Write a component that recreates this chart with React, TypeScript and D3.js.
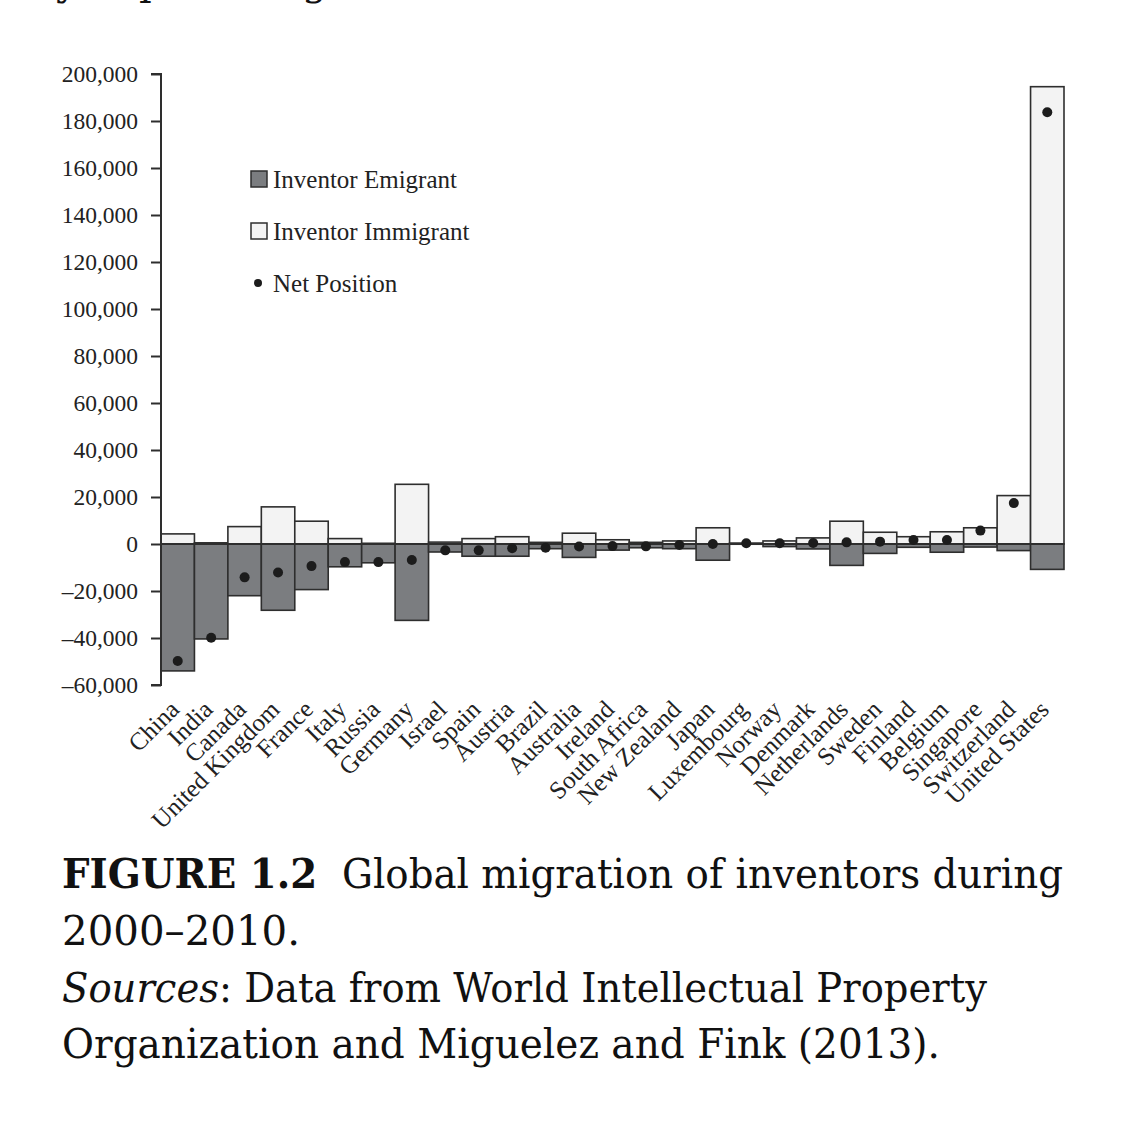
import React, { useEffect, useRef } from "react";
import * as d3 from "d3";

const countries = ["China","India","Canada","United Kingdom","France","Italy","Russia","Germany","Israel","Spain","Austria","Brazil","Australia","Ireland","South Africa","New Zealand","Japan","Luxembourg","Norway","Denmark","Netherlands","Sweden","Finland","Belgium","Singapore","Switzerland","United States"];
const immigrant = [4300, 500, 7400, 15800, 9700, 2300, 300, 25400, 800, 2300, 3100, 700, 4600, 1800, 700, 1300, 6900, 400, 1300, 2600, 9700, 5000, 3100, 5200, 6900, 20600, 194600];
const emigrant = [54000, 40400, 22000, 28200, 19400, 9700, 8000, 32500, 3400, 5200, 5200, 2000, 5700, 2600, 1600, 2000, 6900, 100, 1100, 2100, 9100, 4000, 1400, 3500, 1300, 2800, 10800];
const netPosition = [-49800, -39900, -14200, -12100, -9400, -7700, -7700, -6800, -2700, -2700, -1800, -1600, -1100, -900, -1000, -400, 0, 300, 300, 400, 700, 1000, 1700, 1700, 5700, 17400, 183700];
const yTicks = [-60000, -40000, -20000, 0, 20000, 40000, 60000, 80000, 100000, 120000, 140000, 160000, 180000, 200000];
const legendLabels = ["Inventor Emigrant", "Inventor Immigrant", "Net Position"];
const captionLines = [
  "Global migration of inventors during",
  "2000–2010.",
  "Data from World Intellectual Property",
  "Organization and Miguelez and Fink (2013).",
];

const SERIF = "'Liberation Serif', 'Times New Roman', serif";
const CAP_SERIF = "'DejaVu Serif', serif";
const DARK = "#7b7d80";
const LIGHT = "#f3f3f3";
const STROKE = "#2e2e2e";

export default function App() {
  const axisRef = useRef<SVGGElement>(null);
  const x = d3.scaleBand<string>().domain(countries).range([161, 1064]).padding(0);
  const y = d3.scaleLinear().domain([-60000, 200000]).range([685, 74]);

  useEffect(() => {
    if (!axisRef.current) return;
    const fmt = d3.format(",");
    const axis = d3
      .axisLeft(y)
      .tickValues(yTicks)
      .tickSize(10)
      .tickPadding(13)
      .tickFormat((d: any) => (d < 0 ? "–" + fmt(-d) : fmt(d)));
    const g = d3.select(axisRef.current);
    g.call(axis as any);
    g.select(".domain").attr("stroke", STROKE).attr("stroke-width", 2).attr("d", `M-10,${y(200000)}H0V${y(-60000)}H-10`);
    g.selectAll(".tick line").attr("stroke", STROKE).attr("stroke-width", 2);
    g.selectAll(".tick text")
      .attr("font-family", SERIF)
      .attr("font-size", 23.5)
      .attr("fill", "#222");
  }, []);

  const bw = x.bandwidth();

  return (
    <div style={{ position: "absolute", left: 0, top: 0 }}>
      <svg width={1125} height={1125} style={{ display: "block", background: "#fff" }}>
        {/* cut-off line from previous page */}
        <g fontFamily={CAP_SERIF} fontSize={40} fill="#111">
          <text x={56} y={-5}>y</text>
          <text x={139} y={-5}>p</text>
          <text x={302} y={-5}>g</text>
        </g>

        {/* bars */}
        {countries.map((c, i) => (
          <g key={c}>
            <rect
              x={x(c)}
              y={y(immigrant[i])}
              width={bw}
              height={y(0) - y(immigrant[i])}
              fill={LIGHT}
              stroke={STROKE}
              strokeWidth={1.6}
            />
            <rect
              x={x(c)}
              y={y(0)}
              width={bw}
              height={y(-emigrant[i]) - y(0)}
              fill={DARK}
              stroke={STROKE}
              strokeWidth={1.6}
            />
          </g>
        ))}
        <line x1={161} x2={1064} y1={y(0)} y2={y(0)} stroke={STROKE} strokeWidth={2.2} />
        {countries.map((c, i) => (
          <circle key={c} cx={(x(c) as number) + bw / 2} cy={y(netPosition[i])} r={5} fill="#1c1c1c" />
        ))}

        <g ref={axisRef} transform="translate(161,0)" />

        {/* x labels */}
        <g fontFamily={SERIF} fontSize={25} fill="#222">
          {countries.map((c) => {
            const px = (x(c) as number) + bw / 2 + 3;
            const py = 711;
            return (
              <text key={c} x={px} y={py} textAnchor="end" transform={`rotate(-45,${px},${py})`}>
                {c}
              </text>
            );
          })}
        </g>

        {/* legend */}
        <g fontFamily={SERIF} fontSize={25} fill="#222">
          <rect x={251} y={171} width={16} height={16} fill={DARK} stroke={STROKE} strokeWidth={1.5} />
          <text x={273} y={188}>{legendLabels[0]}</text>
          <rect x={251} y={223} width={16} height={16} fill={LIGHT} stroke={STROKE} strokeWidth={1.5} />
          <text x={273} y={240}>{legendLabels[1]}</text>
          <circle cx={258} cy={283} r={4} fill="#1c1c1c" />
          <text x={273} y={292}>{legendLabels[2]}</text>
        </g>

        {/* caption */}
        <g fontFamily={CAP_SERIF} fontSize={41} fill="#111">
          <text x={62} y={888} textLength={1001} lengthAdjust="spacingAndGlyphs">
            <tspan fontWeight="bold">FIGURE 1.2</tspan>
            <tspan>{"\u00a0\u00a0" + captionLines[0]}</tspan>
          </text>
          <text x={62} y={945} textLength={238} lengthAdjust="spacingAndGlyphs">{captionLines[1]}</text>
          <text x={62} y={1002} textLength={925} lengthAdjust="spacingAndGlyphs">
            <tspan fontStyle="italic">Sources</tspan>
            <tspan>{": " + captionLines[2]}</tspan>
          </text>
          <text x={62} y={1058} textLength={878} lengthAdjust="spacingAndGlyphs">{captionLines[3]}</text>
        </g>
      </svg>
    </div>
  );
}
